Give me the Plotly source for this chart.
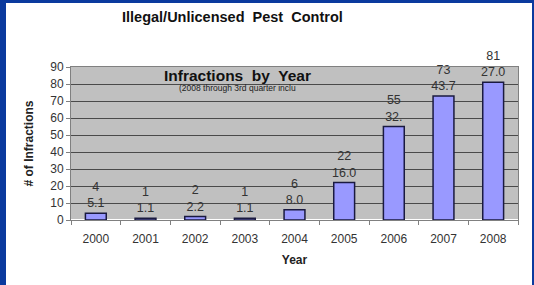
import plotly.graph_objects as go

years = ["2000", "2001", "2002", "2003", "2004", "2005", "2006", "2007", "2008"]
infractions = [4, 1, 2, 1, 6, 22, 55, 73, 81]
second_values = ["5.1", "1.1", "2.2", "1.1", "8.0", "16.0", "32.", "43.7", "27.0"]
y_ticks = [0, 10, 20, 30, 40, 50, 60, 70, 80, 90]

W, H = 534, 285
L, R, T, B = 71, 16, 67, 65
pw = W - L - R
ph = H - T - B

def px(x):
    return (x - L) / pw

def py(y):
    return (H - B - y) / ph

labels = [f"{v}<br>{s}" for v, s in zip(infractions, second_values)]

fig = go.Figure()
fig.add_trace(go.Bar(
    x=years, y=infractions,
    marker=dict(color="#9999FF", line=dict(color="#1a1a40", width=1.5)),
    text=labels, textposition="outside", cliponaxis=False, constraintext="none",
    textfont=dict(family="Arial, Liberation Sans", size=12.5, color="#333333"),
    width=0.42, hoverinfo="skip",
))

blue = "#0B3A9E"
shapes = [
    dict(type="rect", xref="paper", yref="paper", x0=px(0), x1=px(6), y0=py(0), y1=py(H), fillcolor=blue, line_width=0, layer="above"),
    dict(type="rect", xref="paper", yref="paper", x0=px(0), x1=px(W), y0=py(0), y1=py(3), fillcolor=blue, line_width=0, layer="above"),
    dict(type="rect", xref="paper", yref="paper", x0=px(W - 2), x1=px(W), y0=py(0), y1=py(H), fillcolor=blue, line_width=0, layer="above"),
]

fig.update_layout(
    width=W, height=H,
    margin=dict(l=L, r=R, t=T, b=B, pad=0),
    paper_bgcolor="white", plot_bgcolor="#C0C0C0",
    showlegend=False,
    font=dict(family="Arial, Liberation Sans", size=12, color="#333333"),
    shapes=shapes,
    bargap=0.58,
)
fig.update_xaxes(
    type="category", showline=True, linecolor="#808080", mirror=True,
    ticks="outside", tickson="boundaries", ticklen=4, tickcolor="#808080",
    ticklabelstandoff=8,
    tickfont=dict(size=12, color="#333333"),
    title=dict(text="<b>Year</b>", font=dict(size=12, color="#222222"), standoff=10),
)
fig.update_yaxes(
    range=[0, 90], tickvals=y_ticks, showline=True, linecolor="#808080", mirror=True,
    ticks="outside", ticklen=4, tickcolor="#808080",
    gridcolor="#4a4a4a", gridwidth=1,
    tickfont=dict(size=12, color="#333333"),
    title=dict(text="<b># of Infractions</b>", font=dict(size=12, color="#222222"), standoff=14),
)

fig.add_annotation(text="<b>Illegal/Unlicensed  Pest  Control</b>", xref="paper", yref="paper",
                   x=px(232), y=py(17), xanchor="center", yanchor="middle",
                   showarrow=False, font=dict(size=14.5, color="#111111"))
fig.add_annotation(text="<b>Infractions  by  Year</b>", xref="paper", yref="paper",
                   x=px(237), y=py(75), xanchor="center", yanchor="middle",
                   showarrow=False, font=dict(size=15.5, color="#111111"))
fig.add_annotation(text="(2008 through 3rd quarter inclu", xref="paper", yref="paper",
                   x=px(237), y=py(88), xanchor="center", yanchor="middle",
                   showarrow=False, font=dict(size=8.5, color="#222222"))

fig.write_html("out.html", config={"displayModeBar": False},
               post_script="document.body.style.margin='0';")
